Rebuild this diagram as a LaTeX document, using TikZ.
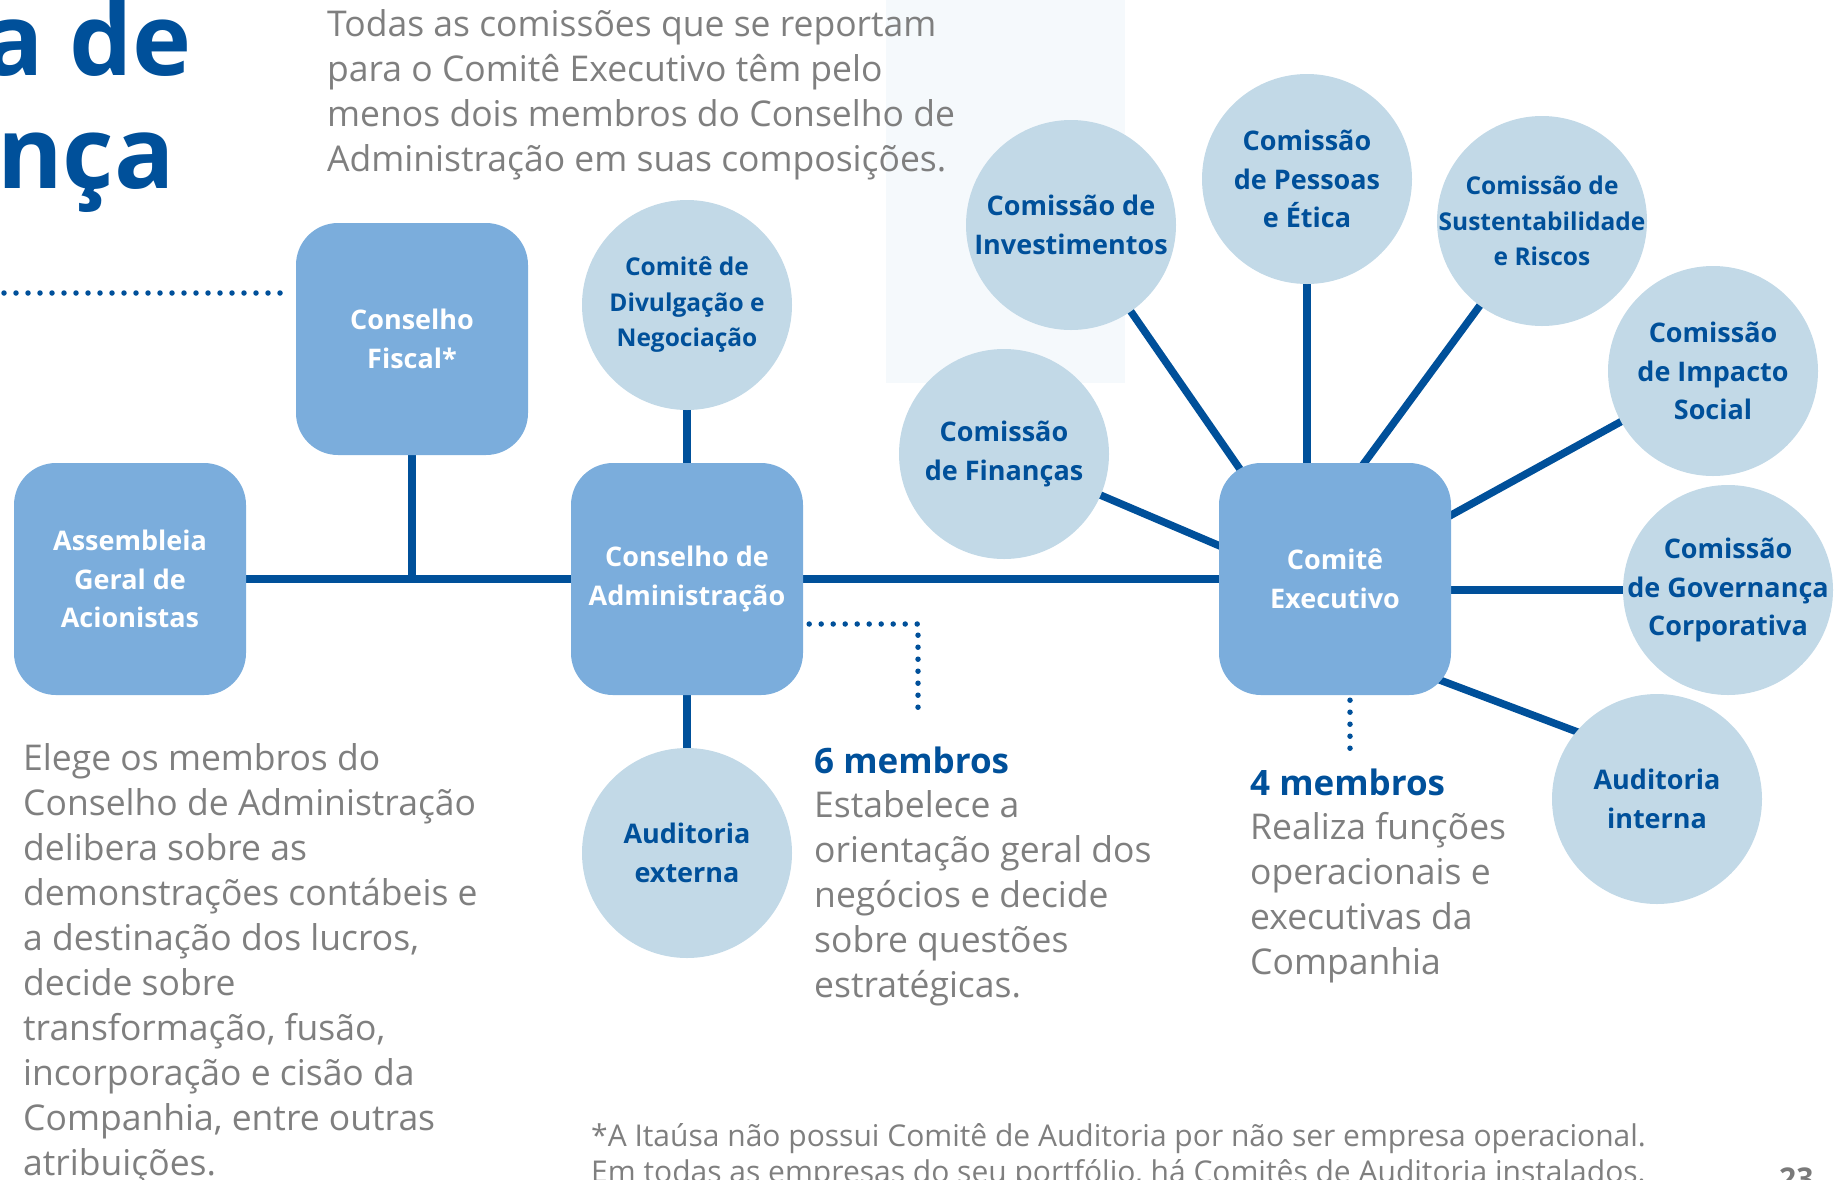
\documentclass[tikz,border=0pt]{standalone}
\usepackage{fontspec}
\setmainfont{Open Sans}
\usetikzlibrary{backgrounds}
\definecolor{dblue}{HTML}{00509A}
\definecolor{boxblue}{HTML}{7BADDC}
\definecolor{circblue}{HTML}{C2D9E7}
\definecolor{bodygray}{HTML}{7F7F7F}
\definecolor{panel}{HTML}{F5F9FC}
\definecolor{pgnum}{HTML}{7A7A7A}
\begin{document}
\begin{tikzpicture}[x=1pt,y=-1pt,
  box/.style={rectangle, rounded corners=42pt, fill=boxblue, minimum width=232pt, minimum height=232pt, inner sep=0pt, text=white, align=center, font=\bfseries\fontsize{27}{38.5}\selectfont},
  circ/.style={circle, fill=circblue, minimum size=210pt, inner sep=-40pt, text=dblue, align=center, font=\bfseries\fontsize{27}{38.5}\selectfont},
  smallcirc/.style={circ, font=\bfseries\fontsize{24.5}{35.5}\selectfont},
  link/.style={draw=dblue, line width=7.5pt},
  dots/.style={draw=dblue, line width=5.5pt, line cap=round, dash pattern=on 0pt off 12pt},
  body/.style={text=bodygray, align=left, inner sep=0pt, anchor=north west, font=\fontsize{35.5}{45}\selectfont},
  headline/.style={text=dblue, inner sep=0pt, anchor=base west, font=\bfseries\fontsize{35}{42}\selectfont},
  title/.style={text=dblue, inner sep=0pt, anchor=base east, font=\bfseries\fontsize{100}{113}\selectfont}
]
\useasboundingbox (0,0) rectangle (1844,1179);

% title fragments
\node[title] (t1) at (192,75) {a de};
\node[title] (t2) at (175,188) {nça};

% boxes
\node[box] (assem) at (130,579) {Assembleia\\Geral de\\Acionistas};
\node[box] (fiscal) at (412,339) {Conselho\\Fiscal*};
\node[box] (cons) at (687,579) {Conselho de\\Administração};
\node[box] (exec) at (1335,579) {Comitê\\Executivo};

% circles
\node[smallcirc] (divul) at (687,305) {Comitê de\\Divulgação e\\Negociação};
\node[circ] (audext) at (687,853) {Auditoria\\externa};
\node[circ] (invest) at (1071,225) {Comissão de\\Investimentos};
\node[circ] (pess) at (1307,179) {Comissão\\de Pessoas\\e Ética};
\node[smallcirc] (sust) at (1542,221) {Comissão de\\Sustentabilidade\\e Riscos};
\node[circ] (impac) at (1713,371) {Comissão\\de Impacto\\Social};
\node[circ] (finan) at (1004,454) {Comissão\\de Finanças};
\node[circ] (gov) at (1728,590) {Comissão\\de Governança\\Corporativa};
\node[circ] (audint) at (1657,799) {Auditoria\\interna};

% connectors behind the shapes
\begin{scope}[on background layer]
  \fill[panel] (886,0) rectangle (1125,383);
  \draw[link] (assem.center) -- (exec.center);
  \draw[link] (fiscal.center) -- (fiscal.center |- assem.center);
  \draw[link] (divul.center) -- (cons.center);
  \draw[link] (cons.center) -- (audext.center);
  \draw[link] (invest.center) -- ([xshift=-19pt]exec.center);
  \draw[link] (pess.center) -- (pess.center |- exec.center);
  \draw[link] (sust.center) -- ([xshift=-56pt]exec.center);
  \draw[link] (impac.center) -- (exec.center);
  \draw[link] (gov.center) -- (gov.center -| exec.center);
  \draw[link] ([shift={(65,86)}]exec.center) -- ([shift={(0,-37)}]audint.center);
  \draw[link] (finan.center) -- ([shift={(0,16)}]exec.center);
\end{scope}

% dotted leaders
\coordinate (dl) at (4,293);
\coordinate (c6) at (918,712);
\coordinate (c4) at (1350,749);
\draw[dots] (dl) -- ([xshift=-10pt]fiscal.west |- dl);
\draw[dots] ([shift={(6,45)}]cons.east) -| (c6);
\draw[dots] ([shift={(15,5)}]exec.south) -- (c4);

% texts
\node[body] (top) at (327,9) {Todas as comissões que se reportam\\para o Comitê Executivo têm pelo\\menos dois membros do Conselho de\\Administração em suas composições.};
\node[body] (left) at (23,743) {Elege os membros do\\Conselho de Administração\\delibera sobre as\\demonstrações contábeis e\\a destinação dos lucros,\\decide sobre\\transformação, fusão,\\incorporação e cisão da\\Companhia, entre outras\\atribuições.};
\node[headline] (m6) at (814,773) {6 membros};
\node[body] (mid) at (814,790) {Estabelece a\\orientação geral dos\\negócios e decide\\sobre questões\\estratégicas.};
\node[headline] (m4) at (1250,795) {4 membros};
\node[body] (right) at (1250,812) {Realiza funções\\operacionais e\\executivas da\\Companhia};
\node[body, font=\fontsize{30}{36}\selectfont] (foot) at (591,1123) {*A Itaúsa não possui Comitê de Auditoria por não ser empresa operacional.\\Em todas as empresas do seu portfólio, há Comitês de Auditoria instalados.};
\node[inner sep=0pt, anchor=north west, text=pgnum, font=\bfseries\fontsize{30}{36}\selectfont] (pg) at (1779,1168) {23};
\end{tikzpicture}
\end{document}
